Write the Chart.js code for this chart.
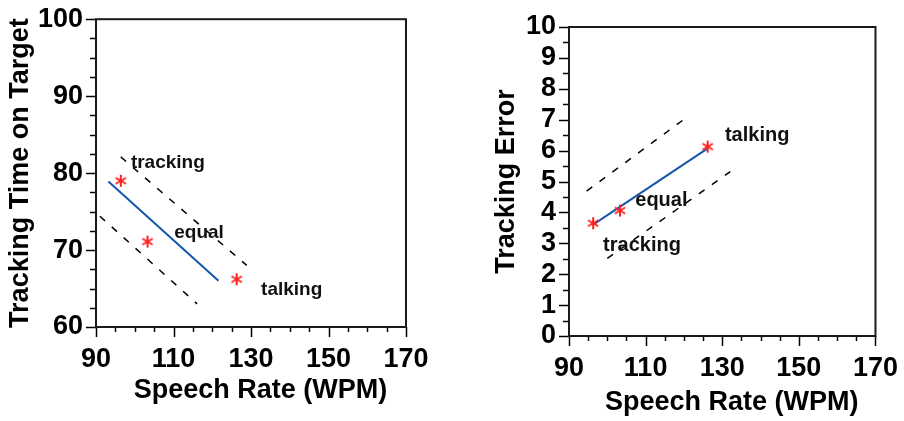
<!DOCTYPE html>
<html>
<head>
<meta charset="utf-8">
<script src="https://cdn.jsdelivr.net/npm/chart.js@4.4.0/dist/chart.umd.min.js"></script>
<style>
  body { margin: 0; background: #fff; }
  #wrap { position: relative; width: 904px; height: 421px; }
  canvas { position: absolute; top: 0; }
</style>
</head>
<body>
<div id="wrap">
  <canvas id="timeChart" width="450" height="421" style="left:0"></canvas>
  <canvas id="errorChart" width="454" height="421" style="left:450px"></canvas>
</div>
<script>
//Speech rate axis (shared by both plots)
const rateMin = 90;
const rateMax = 170;

//Left plot: tracking time on target
const timeLineX = [93.2, 121.6];
const timeLineY = [78.9, 66.0];
const timeUpperX = [96.4, 128.9];
const timeUpperY = [82.1, 68.0];
const timeLowerX = [91.0, 116.1];
const timeLowerY = [74.4, 63.0];
const timePointX = [96.4, 103.3, 126.3];
const timePointY = [79.0, 71.1, 66.2];
const timeLabels = ["tracking", "equal", "talking"];
const timeLabelX = [99.0, 110.2, 132.6];
const timeLabelY = [81.3, 72.2, 64.9];

//Right plot: tracking error
const errLineX = [96.5, 126.2];
const errLineY = [3.62, 6.07];
const errUpperX = [94.6, 121.2];
const errUpperY = [4.69, 7.12];
const errLowerX = [100.0, 132.1];
const errLowerY = [2.51, 5.32];
const errPointX = [96.3, 103.3, 126.2];
const errPointY = [3.65, 4.06, 6.13];
const errLabels = ["talking", "equal", "tracking"];
const errLabelX = [130.7, 107.3, 98.9];
const errLabelY = [6.5, 4.37, 2.94];

const FONT = "'Liberation Sans', Arial, sans-serif";

//Six armed red asterisk marker
function makeAsterisk() {
  const c = document.createElement("canvas");
  c.width = 14;
  c.height = 14;
  const g = c.getContext("2d");
  g.strokeStyle = "#ff2020";
  g.lineWidth = 2;
  g.translate(7, 7);
  for (let a = 0; a < 3; a++) {
    const ang = Math.PI / 2 + (a * Math.PI) / 3;
    g.beginPath();
    g.moveTo(Math.cos(ang) * 6, Math.sin(ang) * 6);
    g.lineTo(-Math.cos(ang) * 6, -Math.sin(ang) * 6);
    g.stroke();
  }
  return c;
}
const asterisk = makeAsterisk();

function toPoints(xs, ys) {
  return xs.map((x, i) => ({ x: x, y: ys[i] }));
}

//Draws the frame box, minor/major tick marks and the text labels
const framePlugin = {
  id: "frame",
  afterDraw(chart, args, opts) {
    const ctx = chart.ctx;
    const a = chart.chartArea;
    const xs = chart.scales.x;
    const ys = chart.scales.y;
    ctx.save();
    ctx.strokeStyle = "#000";
    ctx.lineWidth = 1.5;
    xs.ticks.forEach((t) => {
      const px = Math.round(xs.getPixelForValue(t.value)) + 0.5;
      const len = (t.value - rateMin) % 20 === 0 ? 10 : 5;
      ctx.beginPath();
      ctx.moveTo(px, a.bottom);
      ctx.lineTo(px, a.bottom + len);
      ctx.stroke();
    });
    ys.ticks.forEach((t) => {
      const py = Math.round(ys.getPixelForValue(t.value)) + 0.5;
      const len = t.value % opts.major === 0 ? 10 : 6;
      ctx.beginPath();
      ctx.moveTo(a.left, py);
      ctx.lineTo(a.left - len, py);
      ctx.stroke();
    });
    ctx.strokeStyle = "#1a1a1a";
    ctx.lineWidth = 2;
    ctx.strokeRect(a.left, a.top, a.right - a.left, a.bottom - a.top);

    ctx.fillStyle = "#111";
    ctx.font = "bold " + opts.labelSize + "px " + FONT;
    ctx.textAlign = "left";
    ctx.textBaseline = "middle";
    opts.labels.forEach((txt, i) => {
      ctx.fillText(txt, xs.getPixelForValue(opts.labelX[i]), ys.getPixelForValue(opts.labelY[i]));
    });
    ctx.restore();
  },
};

function buildChart(id, cfg) {
  const datasets = [
    {
      data: toPoints(cfg.pointX, cfg.pointY),
      pointStyle: asterisk,
      pointRadius: 7,
      showLine: false,
    },
    {
      data: toPoints(cfg.lineX, cfg.lineY),
      showLine: true,
      borderColor: "#1357aa",
      borderWidth: 2,
      pointRadius: 0,
    },
    {
      data: toPoints(cfg.upperX, cfg.upperY),
      showLine: true,
      borderColor: "#000",
      borderWidth: 1.5,
      borderDash: [7, 9],
      pointRadius: 0,
    },
    {
      data: toPoints(cfg.lowerX, cfg.lowerY),
      showLine: true,
      borderColor: "#000",
      borderWidth: 1.5,
      borderDash: [7, 9],
      pointRadius: 0,
    },
  ];

  return new Chart(document.getElementById(id), {
    type: "scatter",
    data: { datasets: datasets },
    options: {
      responsive: false,
      animation: false,
      devicePixelRatio: 1,
      layout: { padding: { top: cfg.padTop, right: cfg.padRight, left: 0, bottom: 0 } },
      plugins: {
        legend: { display: false },
        tooltip: { enabled: false },
        frame: {
          major: cfg.major,
          labels: cfg.labels,
          labelX: cfg.labelX,
          labelY: cfg.labelY,
          labelSize: cfg.labelSize,
        },
      },
      scales: {
        x: {
          type: "linear",
          min: rateMin,
          max: rateMax,
          border: { display: false },
          grid: { drawOnChartArea: false, tickColor: "transparent", tickLength: 10 },
          ticks: {
            stepSize: 5,
            autoSkip: false,
            maxRotation: 0,
            padding: 6,
            color: "#000",
            font: { family: FONT, size: 27, weight: "bold" },
            callback: (v) => ((v - rateMin) % 20 === 0 ? v : ""),
          },
          title: {
            display: true,
            text: "\u2002\u2009Speech Rate (WPM)",
            color: "#000",
            font: { family: FONT, size: 27, weight: "bold" },
            padding: { top: 0, bottom: cfg.xTitlePad },
          },
          afterFit: (s) => { s.height = cfg.xHeight; },
        },
        y: {
          type: "linear",
          min: cfg.yMin,
          max: cfg.yMax,
          border: { display: false },
          grid: { drawOnChartArea: false, tickColor: "transparent", tickLength: 10 },
          ticks: {
            stepSize: cfg.minor,
            autoSkip: false,
            padding: 3,
            color: "#000",
            font: { family: FONT, size: 27, weight: "bold" },
            callback: (v) => (v % cfg.major === 0 ? v : ""),
          },
          title: {
            display: true,
            text: cfg.yTitle,
            color: "#000",
            font: { family: FONT, size: 27, weight: "bold" },
            padding: { top: cfg.yTitlePad, bottom: 0 },
          },
          afterFit: (s) => { s.width = cfg.yWidth; },
        },
      },
    },
    plugins: [framePlugin],
  });
}

document.addEventListener("DOMContentLoaded", function () {
  buildChart("timeChart", {
    pointX: timePointX, pointY: timePointY,
    lineX: timeLineX, lineY: timeLineY,
    upperX: timeUpperX, upperY: timeUpperY,
    lowerX: timeLowerX, lowerY: timeLowerY,
    labels: timeLabels, labelX: timeLabelX, labelY: timeLabelY,
    labelSize: 19,
    yMin: 60, yMax: 100, minor: 2.5, major: 10,
    yTitle: "Tracking Time on Target",
    padTop: 16, padRight: 44,
    xHeight: 94, yWidth: 96,
    xTitlePad: 14, yTitlePad: 4,
  });

  buildChart("errorChart", {
    pointX: errPointX, pointY: errPointY,
    lineX: errLineX, lineY: errLineY,
    upperX: errUpperX, upperY: errUpperY,
    lowerX: errLowerX, lowerY: errLowerY,
    labels: errLabels, labelX: errLabelX, labelY: errLabelY,
    labelSize: 20,
    yMin: 0, yMax: 10, minor: 0.5, major: 1,
    yTitle: "Tracking Error",
    padTop: 27, padRight: 25,
    xHeight: 85, yWidth: 119,
    xTitlePad: 2, yTitlePad: 40,
  });
});
</script>
</body>
</html>
